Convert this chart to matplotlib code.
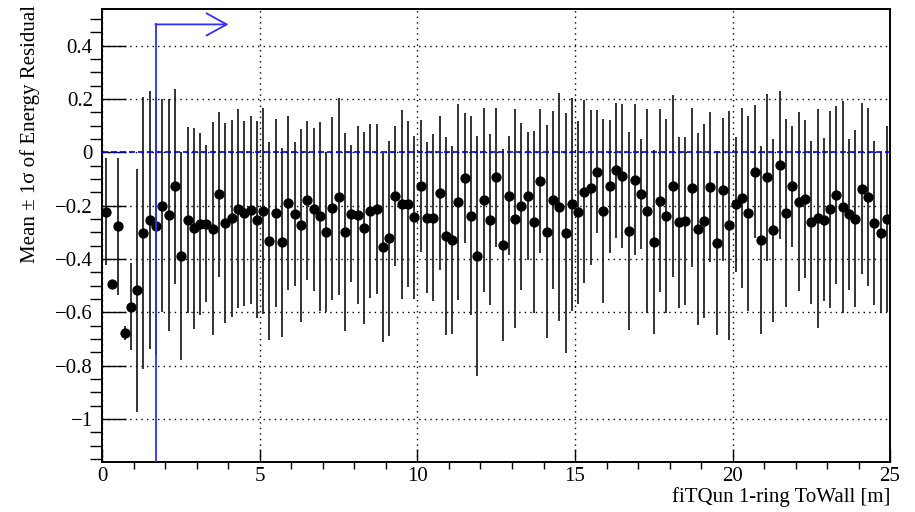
import numpy as np
import matplotlib
matplotlib.use("Agg")
import matplotlib.pyplot as plt
from matplotlib.ticker import MultipleLocator, FixedLocator

plt.rcParams['font.family'] = ['Liberation Serif', 'DejaVu Serif']
plt.rcParams['axes.unicode_minus'] = True

# binning en ToWall (m)
BIN_WIDTH = 0.2
towall = np.arange(0.0, 25.0, BIN_WIDTH) + BIN_WIDTH / 2

# moyenne du residu en energie par bin
mean_res = [
    -0.223, -0.493, -0.278, -0.678, -0.579, -0.518, -0.302, -0.254, -0.277, -0.200,
    -0.234, -0.128, -0.390, -0.254, -0.284, -0.268, -0.267, -0.286, -0.157, -0.264,
    -0.248, -0.211, -0.229, -0.216, -0.253, -0.221, -0.333, -0.229, -0.338, -0.189,
    -0.231, -0.274, -0.179, -0.213, -0.240, -0.299, -0.210, -0.166, -0.299, -0.231,
    -0.235, -0.283, -0.220, -0.213, -0.356, -0.323, -0.164, -0.195, -0.194, -0.244,
    -0.125, -0.245, -0.245, -0.153, -0.314, -0.328, -0.186, -0.096, -0.238, -0.390,
    -0.179, -0.253, -0.094, -0.347, -0.162, -0.249, -0.203, -0.165, -0.262, -0.106,
    -0.297, -0.177, -0.205, -0.304, -0.195, -0.225, -0.148, -0.132, -0.072, -0.220,
    -0.128, -0.068, -0.088, -0.294, -0.102, -0.156, -0.220, -0.337, -0.181, -0.239,
    -0.125, -0.263, -0.258, -0.132, -0.289, -0.258, -0.130, -0.340, -0.140, -0.274,
    -0.195, -0.170, -0.229, -0.072, -0.330, -0.094, -0.292, -0.048, -0.228, -0.128,
    -0.185, -0.175, -0.262, -0.248, -0.252, -0.214, -0.160, -0.205, -0.233, -0.249,
    -0.137, -0.167, -0.265, -0.301, -0.250,
]

# 1 sigma par bin
sigma_res = [
    0.200, 0.015, 0.257, 0.025, 0.163, 0.456, 0.510, 0.483, 0.484, 0.400,
    0.435, 0.367, 0.390, 0.348, 0.377, 0.341, 0.293, 0.400, 0.310, 0.375,
    0.370, 0.374, 0.347, 0.354, 0.370, 0.386, 0.372, 0.353, 0.353, 0.327,
    0.270, 0.361, 0.298, 0.306, 0.354, 0.300, 0.343, 0.369, 0.370, 0.257,
    0.335, 0.360, 0.325, 0.320, 0.354, 0.365, 0.263, 0.354, 0.310, 0.305,
    0.247, 0.283, 0.313, 0.290, 0.370, 0.353, 0.369, 0.243, 0.373, 0.450,
    0.346, 0.320, 0.261, 0.360, 0.223, 0.410, 0.313, 0.240, 0.341, 0.270,
    0.400, 0.334, 0.428, 0.450, 0.400, 0.344, 0.343, 0.290, 0.230, 0.347,
    0.251, 0.252, 0.269, 0.372, 0.283, 0.206, 0.384, 0.345, 0.342, 0.365,
    0.341, 0.322, 0.315, 0.297, 0.360, 0.363, 0.283, 0.345, 0.269, 0.430,
    0.252, 0.338, 0.365, 0.248, 0.353, 0.314, 0.343, 0.278, 0.354, 0.227,
    0.335, 0.298, 0.306, 0.411, 0.307, 0.371, 0.335, 0.398, 0.284, 0.332,
    0.321, 0.335, 0.306, 0.300, 0.350,
]

y_ticks = [0.4, 0.2, 0.0, -0.2, -0.4, -0.6, -0.8, -1.0]
y_labels = ['0.4', '0.2', '0', '\u22120.2', '\u22120.4', '\u22120.6', '\u22120.8', '\u22121']

CUT_TOWALL = 1.7   # coupure ToWall (m)
ARROW_Y = 0.48
ARROW_END = 4.0

YMIN, YMAX = -1.161, 0.537

fig = plt.figure(figsize=(9.15, 5.12), dpi=100)
ax = fig.add_axes([0.112, 0.098, 0.8607, 0.884])

ax.errorbar(towall, mean_res, yerr=sigma_res, fmt='o', color='black',
            ecolor='#111111', elinewidth=1.2, markersize=6.4, capsize=0, zorder=3)

# ligne de reference a zero
ax.axhline(0.0, color='#0000ee', linestyle=(0, (3.6, 1.8)), linewidth=1.2, zorder=3.5)

# coupure + fleche
ax.plot([CUT_TOWALL, CUT_TOWALL], [YMIN, ARROW_Y], color='#2f2fff', linewidth=1.3, zorder=4)
ax.annotate('', xy=(ARROW_END, ARROW_Y), xytext=(CUT_TOWALL - 0.02, ARROW_Y),
            arrowprops=dict(arrowstyle='->,head_length=1.45,head_width=0.8',
                            color='#2f2fff', linewidth=1.3, shrinkA=0, shrinkB=0),
            zorder=4)

ax.set_xlim(0, 25)
ax.set_ylim(YMIN, YMAX)

ax.xaxis.set_major_locator(MultipleLocator(5))
ax.xaxis.set_minor_locator(MultipleLocator(1))
ax.yaxis.set_major_locator(FixedLocator(y_ticks))
ax.set_yticklabels(y_labels)
ax.yaxis.set_minor_locator(MultipleLocator(0.05))

ax.grid(True, which='major', color='black', linestyle=(0, (1, 3)), linewidth=1.0)

ax.tick_params(axis='both', direction='in', top=False, right=False,
               labelsize=15, colors='black')
ax.tick_params(axis='y', which='major', length=17, width=1.0, pad=7)
ax.tick_params(axis='y', which='minor', length=8.5, width=1.0)
ax.tick_params(axis='x', which='major', length=9.5, width=1.0, pad=4)
ax.tick_params(axis='x', which='minor', length=5, width=1.0)

for s in ax.spines.values():
    s.set_linewidth(1.4)

fig.text(30 / 915, 1 - 5 / 512, 'Mean \u00b1 1\u03c3 of Energy Residual',
         rotation=90, ha='center', va='top', fontsize=15)
fig.text(890 / 915, 1 - 497 / 512, 'fiTQun 1-ring ToWall [m]',
         ha='right', va='center', fontsize=15)

fig.savefig('out.png', dpi=100)
